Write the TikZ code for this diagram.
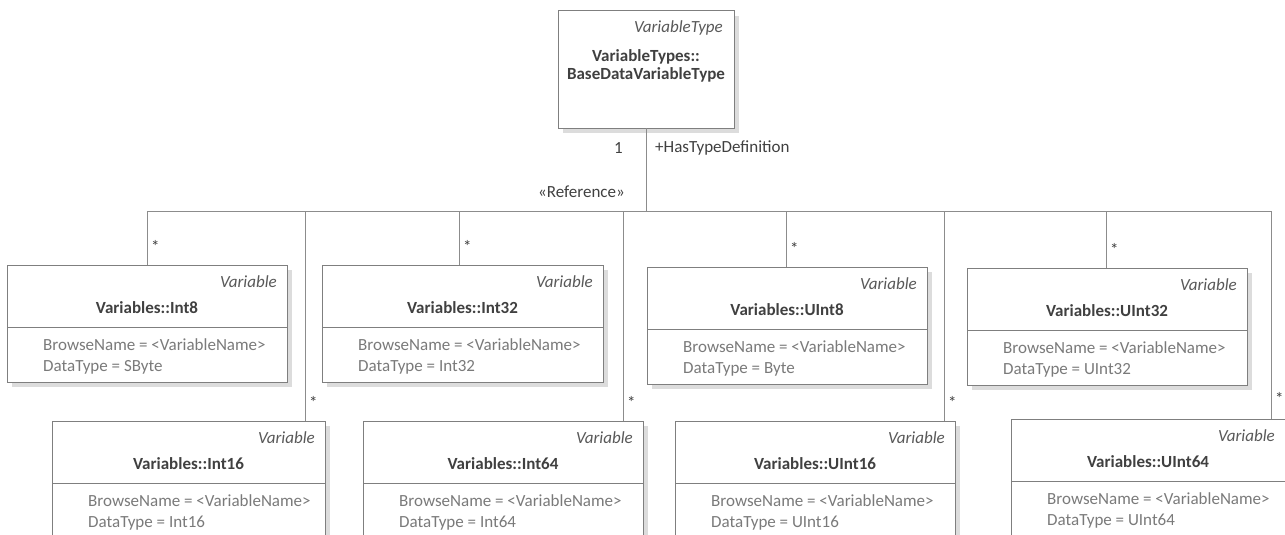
\documentclass[tikz,border=0pt]{standalone}
\usepackage{fontspec}
\setmainfont{Carlito}
\usetikzlibrary{shadows}

\definecolor{edgegray}{HTML}{8C8C8C}
\definecolor{boxgray}{HTML}{7F7F7F}
\definecolor{shadowgray}{HTML}{DCDCDC}
\definecolor{nametext}{HTML}{404040}
\definecolor{attrtext}{HTML}{7A7A7A}
\definecolor{stereotext}{HTML}{595959}

\tikzset{
  classbox/.style={draw=boxgray, line width=1pt, fill=white, anchor=north west,
    minimum height=117pt, inner sep=0pt, outer sep=0pt,
    drop shadow={shadow xshift=5pt, shadow yshift=-5pt, fill=shadowgray, opacity=1}},
  sepline/.style={draw=boxgray, line width=1pt},
  conn/.style={draw=edgegray, line width=1pt},
  stereo/.style={font=\fontsize{17}{19}\selectfont\itshape, text=stereotext, inner sep=0pt, anchor=east},
  classname/.style={font=\fontsize{17}{19}\selectfont\bfseries, text=nametext, inner sep=0pt},
  attr/.style={font=\fontsize{17}{19}\selectfont, text=attrtext, inner sep=0pt, anchor=west},
  mult/.style={font=\fontsize{17}{19}\selectfont, text=nametext, inner sep=0pt},
}

% one UML class box for a variable: name, x, y, width, class suffix, data type
\newcommand\varclass[6]{%
  \node[classbox, minimum width=#4pt] (#1) at (#2,#3) {};
  \draw[sepline] ([yshift=-62pt]#1.north west) -- ([yshift=-62pt]#1.north east);
  \node[stereo] (#1-st) at ([xshift=-10pt,yshift=-17pt]#1.north east) {Variable};
  \node[classname] (#1-nm) at ([yshift=-43pt]#1.north) {Variables::#5};
  \node[attr] (#1-a1) at ([xshift=36pt,yshift=-80pt]#1.north west) {BrowseName = <VariableName>};
  \node[attr] (#1-a2) at ([xshift=36pt,yshift=-102pt]#1.north west) {DataType = #6};
}

% connector from a box up to the bus, with its multiplicity
\newcommand\dropto[3]{%
  \draw[conn] ([xshift=#2pt]#1.north west) |- (bus);
  \node[mult, anchor=west] (#1-mult) at ([xshift=#2pt+4pt,yshift=#3pt]#1.north west) {*};
}

\begin{document}
\begin{tikzpicture}[x=1pt, y=-1pt]
  \useasboundingbox (0,0) rectangle (1285,535);
  \clip (0,0) rectangle (1285,535);

  % base variable type
  \node[classbox, minimum width=176pt] (base) at (558,11) {};
  \node[stereo] (base-st) at ([xshift=-11pt,yshift=-17pt]base.north east) {VariableType};
  \node[classname] (base-nm1) at ([yshift=-46pt]base.north) {VariableTypes::};
  \node[classname] (base-nm2) at ([yshift=-64pt]base.north) {BaseDataVariableType};

  % bus of the reference
  \coordinate (bus) at (646,211);
  \draw[conn] (base.south) -- (bus);
  \node[mult, anchor=east] (one) at ([xshift=-23pt,yshift=-20pt]base.south) {1};
  \node[mult, anchor=west] (role) at ([xshift=9pt,yshift=-20pt]base.south) {+HasTypeDefinition};
  \node[mult, anchor=east] (stereoref) at ([xshift=-21pt,yshift=-64pt]base.south) {«Reference»};

  % top row
  \varclass{int8}{7}{265}{280}{Int8}{SByte}
  \varclass{int32}{322}{265}{281}{Int32}{Int32}
  \varclass{uint8}{647}{267}{280}{UInt8}{Byte}
  \varclass{uint32}{967}{268}{280}{UInt32}{UInt32}

  % bottom row
  \varclass{int16}{52}{421}{273}{Int16}{Int16}
  \varclass{int64}{363}{421}{280}{Int64}{Int64}
  \varclass{uint16}{675}{421}{280}{UInt16}{UInt16}
  \varclass{uint64}{1011}{419}{274}{UInt64}{UInt64}

  % connectors
  \dropto{int8}{140}{19}
  \dropto{int16}{253}{19}
  \dropto{int32}{137}{19}
  \dropto{int64}{260}{19}
  \dropto{uint8}{139}{19}
  \dropto{uint16}{269}{19}
  \dropto{uint32}{139}{19}
  \dropto{uint64}{260}{21}
\end{tikzpicture}
\end{document}
